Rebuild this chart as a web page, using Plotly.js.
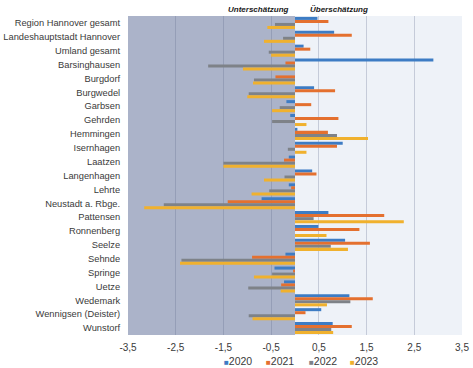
<!DOCTYPE html>
<html>
<head>
<meta charset="utf-8">
<script src="https://cdn.plot.ly/plotly-3.0.1.min.js"></script>
<style>html,body{margin:0;padding:0;background:#fff;}#chart{width:473px;height:368px;}</style>
</head>
<body>
<div id="chart"></div>
<script>
const categories = ["Region Hannover gesamt","Landeshauptstadt Hannover","Umland gesamt","Barsinghausen","Burgdorf","Burgwedel","Garbsen","Gehrden","Hemmingen","Isernhagen","Laatzen","Langenhagen","Lehrte","Neustadt a. Rbge.","Pattensen","Ronnenberg","Seelze","Sehnde","Springe","Uetze","Wedemark","Wennigsen (Deister)","Wunstorf"];
const seriesNames = ["2020","2021","2022","2023"];
const v2020 = [0.47, 0.82, 0.18, 2.9, 0, 0.4, -0.18, -0.1, 0.05, 1.0, -0.13, 0.36, -0.13, -0.7, 0.7, 0.49, 1.05, -0.2, -0.43, -0.23, 1.14, 0.55, 0.79];
const v2021 = [0.7, 1.19, 0.32, -0.2, -0.41, 0.84, 0.34, 0.91, 0.69, 0.88, -0.23, 0.45, -0.08, -1.41, 1.87, 1.35, 1.57, -0.9, -0.04, -0.29, 1.63, 0.22, 1.19];
const v2022 = [-0.42, -0.25, -0.55, -1.82, -0.86, -0.97, -0.32, -0.48, 0.88, -0.15, -1.5, -0.22, -0.54, -2.75, 0.39, 0, 0.75, -2.38, -0.48, -0.98, 1.16, -0.97, 0.76];
const v2023 = [-0.58, -0.65, -0.5, -1.09, -0.88, -1.0, -0.48, 0.24, 1.53, 0.24, -1.5, -0.65, -0.91, -3.16, 2.28, 0.66, 1.11, -2.41, -0.86, -0.3, 0.67, -0.89, 0.8];
const tickVals = [-3.5, -2.5, -1.5, -0.5, 0.5, 1.5, 2.5, 3.5];
const tickText = ["-3,5", "-2,5", "-1,5", "-0,5", "0,5", "1,5", "2,5", "3,5"];
const colors = ["#3d7cc4", "#e4702f", "#7e8288", "#f0b12e"];

const values = [v2020, v2021, v2022, v2023];
const data = values.map((v, i) => ({
  type: "bar", orientation: "h", name: seriesNames[i],
  x: v, y: categories, marker: {color: colors[i]}, hoverinfo: "x+y"
}));

// legend drawn as text entries below the plot (paper coordinates)
const legendX = [0.281, 0.407, 0.536, 0.659];
const legendAnn = seriesNames.map((n, i) => ({
  text: '<span style="font-size:8px;color:' + colors[i] + '">■</span>' + n,
  xref: "paper", yref: "paper", x: legendX[i], y: -0.083, xanchor: "left", yanchor: "middle",
  showarrow: false, font: {size: 10.5, color: "#3a3a3a"}
}));

const layout = {
  width: 473, height: 368,
  margin: {l: 128, r: 11, t: 16, b: 33},
  paper_bgcolor: "#ffffff", plot_bgcolor: "rgba(0,0,0,0)",
  font: {family: "Liberation Sans, Arial, sans-serif", color: "#3a3a3a", size: 10},
  barmode: "group", bargap: 0.13, bargroupgap: 0,
  showlegend: false,
  xaxis: {range: [-3.5, 3.5], tickvals: tickVals, ticktext: tickText, showgrid: true,
          gridcolor: "rgba(95,105,135,0.28)", gridwidth: 1, zeroline: false, showline: false,
          ticks: "outside", ticklen: 3, tickcolor: "rgba(0,0,0,0)",
          tickfont: {size: 10, color: "#3a3a3a"}, fixedrange: true, layer: "above traces"},
  yaxis: {autorange: "reversed", type: "category", showgrid: false, zeroline: false,
          ticks: "outside", ticklen: 5, tickcolor: "rgba(0,0,0,0)",
          tickfont: {size: 9.3, color: "#3a3a3a"}, automargin: false},
  shapes: [
    {type: "rect", xref: "x", yref: "paper", x0: -3.5, x1: 0, y0: 0, y1: 1, fillcolor: "#abb3c9", line: {width: 0}, layer: "below"},
    {type: "rect", xref: "x", yref: "paper", x0: 0, x1: 3.5, y0: 0, y1: 1, fillcolor: "#eef2f8", line: {width: 0}, layer: "below"}
  ],
  annotations: [
    {text: "<b><i>Unterschätzung</i></b>", xref: "x", yref: "paper", x: -0.08, y: 1.0, xanchor: "right", yanchor: "bottom", showarrow: false, font: {size: 8, color: "#1a1a1a"}},
    {text: "<b><i>Überschätzung</i></b>", xref: "x", yref: "paper", x: 0.28, y: 1.0, xanchor: "left", yanchor: "bottom", showarrow: false, font: {size: 8, color: "#1a1a1a"}}
  ].concat(legendAnn)
};

Plotly.newPlot("chart", data, layout, {displayModeBar: false, staticPlot: true});
</script>
</body>
</html>
